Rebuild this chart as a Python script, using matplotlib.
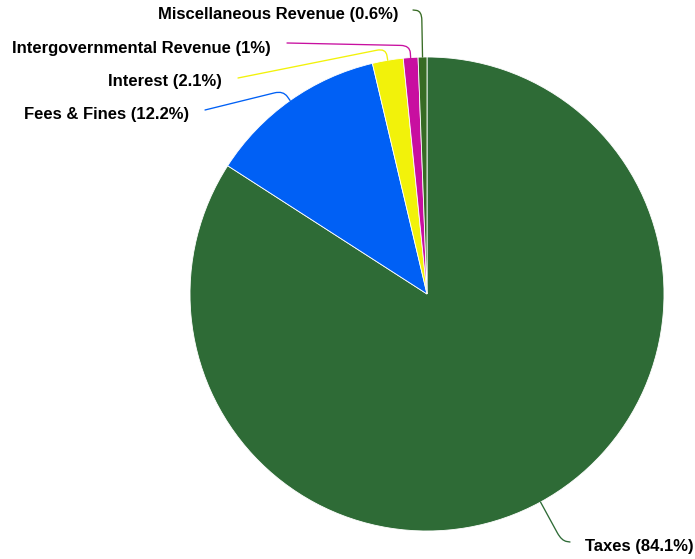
import numpy as np
import matplotlib
matplotlib.use("Agg")
import matplotlib.pyplot as plt
from matplotlib.path import Path
from matplotlib.patches import PathPatch

# Revenue breakdown
categories = ["Taxes", "Fees & Fines", "Interest",
              "Intergovernmental Revenue", "Miscellaneous Revenue"]
shares = [84.1, 12.2, 2.1, 1, 0.6]
colors = ["#2e6b36", "#0060f5", "#f2f20a", "#c80fa0", "#376b24"]

W, H = 695, 559
CX, CY, R = 427, 294, 237   # pie centre / radius in pixels


def to_data(px, py):
    return np.array([(px - CX) / R, (CY - py) / R])


# label layout: (leader elbow offset px, leader end px, text anchor px, ha)
label_layout = {
    "Taxes": (44, (570, 542), (585, 546), "left"),
    "Fees & Fines": (12, (205, 110), (189, 114), "right"),
    "Interest": (12, (238, 78), (222, 81), "right"),
    "Intergovernmental Revenue": (12, (287, 43), (271, 48), "right"),
    "Miscellaneous Revenue": (46, (413, 10), (398, 15), "right"),
}

plt.rcParams["font.family"] = ["Liberation Sans", "DejaVu Sans"]
fig = plt.figure(figsize=(W / 100, H / 100), dpi=100)
ax = fig.add_axes([0, 0, 1, 1])
ax.axis("off")

wedges, _ = ax.pie(shares, colors=colors, startangle=90, counterclock=False,
                   radius=1, center=(0, 0),
                   wedgeprops=dict(edgecolor="white", linewidth=0.6))
ax.set_xlim(-CX / R, (W - CX) / R)
ax.set_ylim(-(H - CY) / R, CY / R)
ax.set_aspect("equal")

smooth = 9 / R
for w, name, val, col in zip(wedges, categories, shares, colors):
    mid = np.deg2rad((w.theta1 + w.theta2) / 2)
    d = np.array([np.cos(mid), np.sin(mid)])
    elbow_off, end_px, text_px, ha = label_layout[name]
    p0 = d * 1.0
    p1 = d * (1.0 + elbow_off / R)
    p2 = to_data(*end_px)
    a = p1 + (p0 - p1) * min(smooth / np.linalg.norm(p0 - p1), 0.6)
    b = p1 + (p2 - p1) * min(smooth / np.linalg.norm(p2 - p1), 0.6)
    path = Path([p0, a, p1, b, p2],
                [Path.MOVETO, Path.LINETO, Path.CURVE3, Path.CURVE3, Path.LINETO])
    ax.add_patch(PathPatch(path, facecolor="none", edgecolor=col, lw=0.95,
                           capstyle="round", joinstyle="round"))
    tx, ty = to_data(*text_px)
    ax.text(tx, ty, f"{name} ({val:g}%)", ha=ha, va="center",
            fontsize=12, fontweight="bold", color="#000000")

fig.savefig("out.png", dpi=100)
